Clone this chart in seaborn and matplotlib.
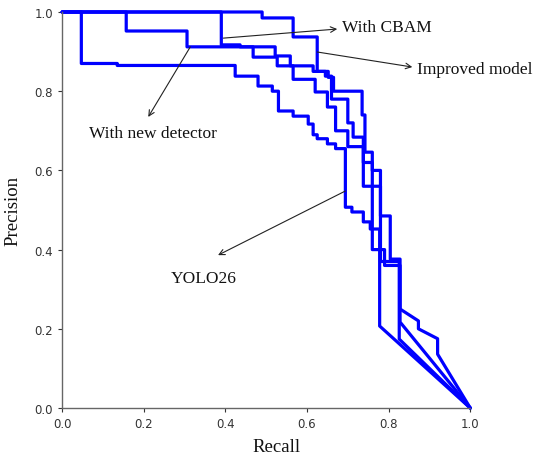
import seaborn as sns
import numpy as np
import pandas as pd
import matplotlib.pyplot as plt

# step levels: recall where each precision level starts, then the diagonal tail to (1, 0)
yolo_r = [0.0, 0.047, 0.135, 0.424, 0.48, 0.515, 0.53, 0.566, 0.603, 0.615, 0.625, 0.65, 0.67, 0.694, 0.71, 0.738, 0.755]
yolo_p = [1.0, 0.87, 0.865, 0.838, 0.813, 0.80, 0.75, 0.737, 0.717, 0.69, 0.68, 0.667, 0.655, 0.507, 0.495, 0.47, 0.452]
yolo_tail_r = [0.778, 1.0]
yolo_tail_p = [0.207, 0.0]

det_r = [0.0, 0.157, 0.306, 0.468, 0.527, 0.566, 0.62, 0.65, 0.67, 0.70, 0.738, 0.76, 0.79]
det_p = [1.0, 0.952, 0.912, 0.886, 0.864, 0.83, 0.798, 0.76, 0.70, 0.66, 0.62, 0.40, 0.36]
det_tail_r = [0.828, 1.0]
det_tail_p = [0.217, 0.0]

cbam_r = [0.0, 0.39, 0.436, 0.522, 0.559, 0.615, 0.645, 0.66, 0.70, 0.713, 0.738, 0.78]
cbam_p = [1.0, 0.917, 0.912, 0.889, 0.864, 0.85, 0.838, 0.78, 0.72, 0.684, 0.56, 0.37]
cbam_tail_r = [0.826, 1.0]
cbam_tail_p = [0.174, 0.0]

imp_r = [0.0, 0.49, 0.566, 0.625, 0.652, 0.665, 0.735, 0.742, 0.76, 0.78, 0.804]
imp_p = [1.0, 0.985, 0.937, 0.85, 0.835, 0.80, 0.74, 0.646, 0.60, 0.485, 0.376]
imp_tail_r = [0.828, 0.873, 0.873, 0.92, 0.92, 1.0]
imp_tail_p = [0.25, 0.22, 0.20, 0.175, 0.136, 0.0]


def staircase(r, p, tail_r, tail_p):
    xs, ys = [], []
    for i in range(len(r)):
        nxt = r[i + 1] if i + 1 < len(r) else tail_r[0]
        xs += [r[i], nxt]
        ys += [p[i], p[i]]
    return xs + tail_r, ys + tail_p


curves = {
    "YOLO26": staircase(yolo_r, yolo_p, yolo_tail_r, yolo_tail_p),
    "With new detector": staircase(det_r, det_p, det_tail_r, det_tail_p),
    "With CBAM": staircase(cbam_r, cbam_p, cbam_tail_r, cbam_tail_p),
    "Improved model": staircase(imp_r, imp_p, imp_tail_r, imp_tail_p),
}

sns.set_style("ticks")
fig = plt.figure(figsize=(5.5, 4.64), dpi=100)
ax = fig.add_axes([0.113, 0.1185, 0.742, 0.8535])

for name, (xs, ys) in curves.items():
    df = pd.DataFrame({"Recall": xs, "Precision": ys})
    sns.lineplot(data=df, x="Recall", y="Precision", sort=False, estimator=None,
                 color="#0000ff", linewidth=2.3, ax=ax, clip_on=False)

ax.set_xlim(0, 1)
ax.set_ylim(0, 1)
ax.set_xticks(np.arange(0, 1.01, 0.2))
ax.set_yticks(np.arange(0, 1.01, 0.2))
ax.tick_params(labelsize=8.5, colors="#333333", length=3, width=0.8)
for s in ["left", "bottom"]:
    ax.spines[s].set_color("#666666")
    ax.spines[s].set_linewidth(1.0)
sns.despine(ax=ax)

serif = ["Liberation Serif", "DejaVu Serif"]
ax.set_xlabel("Recall", fontsize=13.5, family=serif, color="#111111")
ax.set_ylabel("Precision", fontsize=13.5, family=serif, color="#111111")
ax.xaxis.set_label_coords(0.525, -0.075)
ax.yaxis.set_label_coords(-0.10, 0.5)

arrow = dict(arrowstyle="->", color="#222222", lw=0.8, shrinkA=0, shrinkB=0)
notes = [
    ("With CBAM", (0.395, 0.934), (0.674, 0.957), (0.686, 0.962), "left"),
    ("Improved model", (0.625, 0.899), (0.858, 0.861), (0.870, 0.857), "left"),
    ("With new detector", (0.314, 0.912), (0.211, 0.735), (0.223, 0.695), "center"),
    ("YOLO26", (0.694, 0.548), (0.382, 0.386), (0.346, 0.328), "center"),
]
for label, tail, head, pos, ha in notes:
    ax.annotate("", xy=head, xytext=tail, arrowprops=arrow, annotation_clip=False)
    ax.text(pos[0], pos[1], label, ha=ha, va="center", fontsize=12.5,
            family=serif, color="#111111", clip_on=False)

fig.savefig("out.png", dpi=100)
